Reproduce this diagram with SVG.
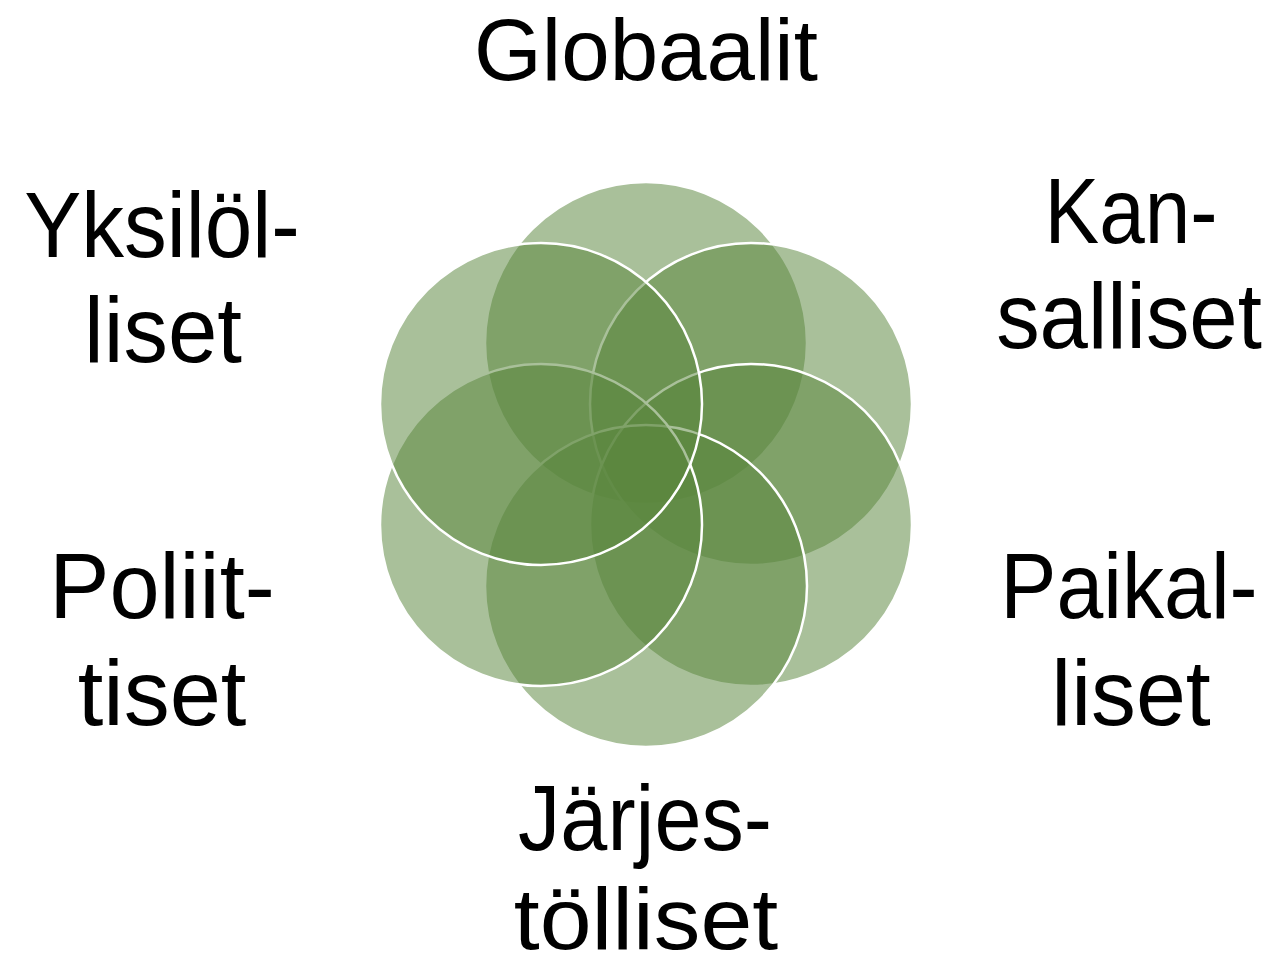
<svg xmlns="http://www.w3.org/2000/svg" width="1276" height="968" viewBox="0 0 1276 968">
<style>
.c{fill:#5A863D;fill-opacity:0.52;stroke:#FFFFFF;stroke-width:2.5}
.t{font-family:"Liberation Sans",Arial,sans-serif;font-size:92px;fill:#000;text-anchor:middle}
.s{font-size:88px}
</style>
<rect width="1276" height="968" fill="#FFFFFF"/>
<g id="circles">
<g id="c-top"><circle class="c" cx="646" cy="343" r="161"/></g>
<g id="c-upper-right"><circle class="c" cx="751" cy="404" r="161"/></g>
<g id="c-lower-right"><circle class="c" cx="751" cy="525" r="161"/></g>
<g id="c-bottom"><circle class="c" cx="646" cy="586" r="161"/></g>
<g id="c-lower-left"><circle class="c" cx="541" cy="525" r="161"/></g>
<g id="c-upper-left"><circle class="c" cx="541" cy="404" r="161"/></g>
</g>
<g id="connectors"></g>
<g id="label-globaalit"><text class="t s" transform="translate(646,80) scale(0.99,1)">Globaalit</text></g>
<g id="label-yksilolliset">
<text class="t" transform="translate(162,257) scale(0.93,1)">Yksilöl-</text>
<text class="t" transform="translate(163,362) scale(0.965,1)">liset</text>
</g>
<g id="label-kansalliset">
<text class="t" transform="translate(1131,243) scale(0.89,1)">Kan-</text>
<text class="t" transform="translate(1129,348) scale(0.945,1)">salliset</text>
</g>
<g id="label-poliittiset">
<text class="t" transform="translate(162,618) scale(0.98,1)">Poliit-</text>
<text class="t" transform="translate(162,725)">tiset</text>
</g>
<g id="label-paikalliset">
<text class="t" transform="translate(1129,618) scale(0.915,1)">Paikal-</text>
<text class="t" transform="translate(1131,725) scale(0.975,1)">liset</text>
</g>
<g id="label-jarjestolliset">
<text class="t" transform="translate(645,850) scale(0.92,1)">Järjes-</text>
<text class="t s" transform="translate(646,949) scale(1.06,1)">tölliset</text>
</g>
</svg>
